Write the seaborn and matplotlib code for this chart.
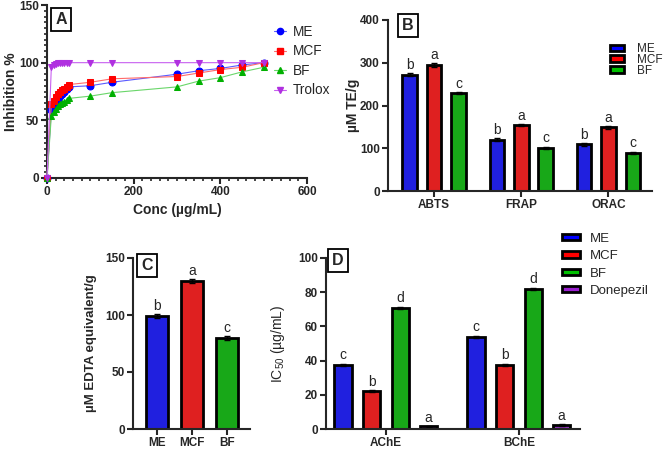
import numpy as np
import pandas as pd
import matplotlib
matplotlib.use('Agg')
import matplotlib.pyplot as plt
import seaborn as sns
from matplotlib.patches import Patch
from matplotlib.lines import Line2D
from matplotlib.ticker import MultipleLocator

sns.set_style('ticks')
plt.rcParams['font.family'] = ['Liberation Sans', 'DejaVu Sans']
plt.rcParams['font.weight'] = 'bold'   # tick labels / axis labels are bold in the source
plt.rcParams['mathtext.default'] = 'regular'

# ---- data ----
# A: inhibition vs concentration
conc = [0, 10, 15, 20, 25, 30, 35, 40, 45, 50, 100, 150, 300, 350, 400, 450, 500]
inh_me = [0, 59, 62, 65, 68, 71, 73, 75, 77, 79, 80, 83, 90, 93, 95, 98, 100]
inh_mcf = [0, 64, 67, 70, 73, 75, 76, 77, 79, 81, 83, 86, 88, 91, 94, 96, 100]
inh_bf = [0, 54, 57, 60, 62, 64, 65, 66, 68, 69, 71, 74, 79, 84, 87, 92, 96]
inh_trolox = [0, 96, 98, 99, 100, 100, 100, 100, 100, 100, 100, 100, 100, 100, 100, 100, 100]

# B: antioxidant assays
assays = ['ABTS', 'FRAP', 'ORAC']
b_me = [272, 120, 109]
b_mcf = [294, 154, 149]
b_bf = [229, 101, 89]
b_me_err = [4, 3, 3]
b_mcf_err = [5, 3, 3]
b_bf_err = [3, 3, 3]
b_letters = {'ME': ['b', 'b', 'b'], 'MCF': ['a', 'a', 'a'], 'BF': ['c', 'c', 'c']}

# C: metal chelating
samples = ['ME', 'MCF', 'BF']
c_vals = [99, 130, 80]
c_err = [1.5, 1.5, 1.5]
c_letters = ['b', 'a', 'c']

# D: enzyme inhibition IC50
enzymes = ['AChE', 'BChE']
d_me = [37.5, 54]
d_mcf = [22, 37.5]
d_bf = [71, 82]
d_don = [1.5, 2.5]
d_me_err = [0.6, 0.6]
d_mcf_err = [0.6, 0.8]
d_bf_err = [0.6, 0.6]
d_don_err = [0.3, 0.5]
d_letters = {'ME': ['c', 'c'], 'MCF': ['b', 'b'], 'BF': ['d', 'd'], 'Donepezil': ['a', 'a']}

colors = {'ME': '#0000FF', 'MCF': '#FF0000', 'BF': '#00C000', 'Donepezil': '#9A1FCF'}

W, H = 669, 450
fig = plt.figure(figsize=(W / 100, H / 100), dpi=100)


def px_axes(l, t, r, b):
    return fig.add_axes([l / W, 1 - b / H, (r - l) / W, (b - t) / H])


def style_axes(ax):
    sns.despine(ax=ax)
    for s in ['left', 'bottom']:
        ax.spines[s].set_linewidth(1.5)
    ax.tick_params(which='major', length=4, width=1.5, labelsize=8.5, pad=2)
    ax.tick_params(which='minor', length=2.5, width=1.2)


def panel_label(ax, txt, x, y):
    ax.text(x, y, txt, transform=ax.transAxes, ha='center', va='center',
            fontsize=11.5, fontweight='bold',
            bbox=dict(boxstyle='square,pad=0.25', fc='white', ec='black', lw=1.3))


def add_err_letters(ax, errs, letters, off):
    for cont, e, lt in zip(ax.containers, errs, letters):
        for bar, ev, l in zip(cont, e, lt):
            xc = bar.get_x() + bar.get_width() / 2
            h = bar.get_height()
            ax.errorbar(xc, h, yerr=ev, color='black', capsize=2.5, elinewidth=1, capthick=1)
            ax.text(xc, h + ev + off, l, ha='center', va='bottom', fontsize=10,
                    fontweight='normal')


# ---- Panel A ----
axA = px_axes(47, 5, 307, 178)
series = [('ME', inh_me, '#5A5AFF', '#0000FF', 'o'),
          ('MCF', inh_mcf, '#FF6A6A', '#FF0000', 's'),
          ('BF', inh_bf, '#6AD66A', '#00B000', '^'),
          ('Trolox', inh_trolox, '#C860F0', '#B030E0', 'v')]
handles = []
for name, vals, lc, mc, mk in series:
    sns.lineplot(x=conc, y=vals, ax=axA, color=lc, lw=0.8, marker=mk, markersize=5,
                 markerfacecolor=mc, markeredgecolor=mc, clip_on=False, zorder=3)
    handles.append(Line2D([], [], color=lc, lw=0.8, marker=mk, markersize=4.5,
                          markerfacecolor=mc, markeredgecolor=mc, label=name))
axA.set_xlim(0, 600)
axA.set_ylim(0, 150)
axA.xaxis.set_major_locator(MultipleLocator(200))
axA.xaxis.set_minor_locator(MultipleLocator(20))
axA.yaxis.set_major_locator(MultipleLocator(50))
axA.yaxis.set_minor_locator(MultipleLocator(5))
axA.set_xlabel('Conc (µg/mL)', fontsize=10, fontweight='bold')
axA.set_ylabel('Inhibition %', fontsize=10, fontweight='bold')
axA.xaxis.set_label_coords(0.5, -0.145)
axA.yaxis.set_label_coords(-0.11, 0.5)
style_axes(axA)
axA.legend(handles=handles, loc='upper left', bbox_to_anchor=(274 / W, 1 - 25 / H),
           bbox_transform=fig.transFigure, frameon=False, borderpad=0,
           prop={'size': 9.8, 'weight': 'normal'},
           handlelength=0.9, handletextpad=0.5, labelspacing=0.4, borderaxespad=0)
panel_label(axA, 'A', 0.054, 0.918)

# ---- Panel B ----
axB = px_axes(388, 20, 652, 191)
dfB = pd.DataFrame({'assay': assays * 3,
                    'sample': ['ME'] * 3 + ['MCF'] * 3 + ['BF'] * 3,
                    'value': b_me + b_mcf + b_bf})
sns.barplot(data=dfB, x='assay', y='value', hue='sample', palette=colors, ax=axB,
            width=0.84, gap=0.4, edgecolor='black', linewidth=2, errorbar=None, legend=False)
add_err_letters(axB, [b_me_err, b_mcf_err, b_bf_err],
                [b_letters['ME'], b_letters['MCF'], b_letters['BF']], 3)
axB.set_xlim(-0.53, 2.5)
axB.set_ylim(0, 400)
axB.yaxis.set_major_locator(MultipleLocator(100))
axB.set_xlabel('')
axB.set_ylabel('µM TE/g', fontsize=10, fontweight='bold')
axB.yaxis.set_label_coords(-0.106, 0.5)
style_axes(axB)
hB = [Patch(fc=colors[s], ec='black', lw=2, label=s) for s in samples]
axB.legend(handles=hB, loc='upper left', bbox_to_anchor=(610 / W, 1 - 43 / H),
           bbox_transform=fig.transFigure, frameon=False, borderpad=0,
           prop={'size': 8.5, 'weight': 'normal'},
           handlelength=1.2, handleheight=0.45, handletextpad=1.1, labelspacing=-0.1,
           borderaxespad=0)
panel_label(axB, 'B', 0.076, 0.965)

# ---- Panel C ----
axC = px_axes(133, 258, 250, 429)
dfC = pd.DataFrame({'sample': samples, 'value': c_vals})
sns.barplot(data=dfC, x='sample', y='value', hue='sample', palette=colors, ax=axC,
            width=0.63, edgecolor='black', linewidth=2, errorbar=None, legend=False)
add_err_letters(axC, [[e] for e in c_err], [[l] for l in c_letters], 1)
axC.set_xlim(-0.69, 2.65)
axC.set_ylim(0, 150)
axC.yaxis.set_major_locator(MultipleLocator(50))
axC.set_xlabel('')
axC.set_ylabel('µM EDTA equivalent/g', fontsize=9.5, fontweight='bold')
axC.yaxis.set_label_coords(-0.31, 0.5)
style_axes(axC)
panel_label(axC, 'C', 0.12, 0.955)

# ---- Panel D ----
axD = px_axes(326, 258, 580, 429)
d_samples = ['ME', 'MCF', 'BF', 'Donepezil']
dfD = pd.DataFrame({'enzyme': enzymes * 4,
                    'sample': [s for s in d_samples for _ in enzymes],
                    'value': d_me + d_mcf + d_bf + d_don})
sns.barplot(data=dfD, x='enzyme', y='value', hue='sample', palette=colors, ax=axD,
            width=0.86, gap=0.4, edgecolor='black', linewidth=2, errorbar=None, legend=False)
add_err_letters(axD, [d_me_err, d_mcf_err, d_bf_err, d_don_err],
                [d_letters[s] for s in d_samples], 0.8)
axD.set_xlim(-0.45, 1.46)
axD.set_ylim(0, 100)
axD.yaxis.set_major_locator(MultipleLocator(20))
axD.set_xlabel('')
axD.set_ylabel('IC$_{50}$ (µg/mL)', fontsize=10, fontweight='normal')
axD.yaxis.set_label_coords(-0.155, 0.5)
style_axes(axD)
hD = [Patch(fc=colors[s], ec='black', lw=2, label=s) for s in d_samples]
axD.legend(handles=hD, loc='upper left', bbox_to_anchor=(562 / W, 1 - 233 / H),
           bbox_transform=fig.transFigure, frameon=False, borderpad=0,
           prop={'size': 9.5, 'weight': 'normal'},
           handlelength=1.35, handleheight=0.35, handletextpad=0.8, labelspacing=0.4,
           borderaxespad=0)
panel_label(axD, 'D', 0.047, 0.985)

fig.savefig('out.png', dpi=100)
